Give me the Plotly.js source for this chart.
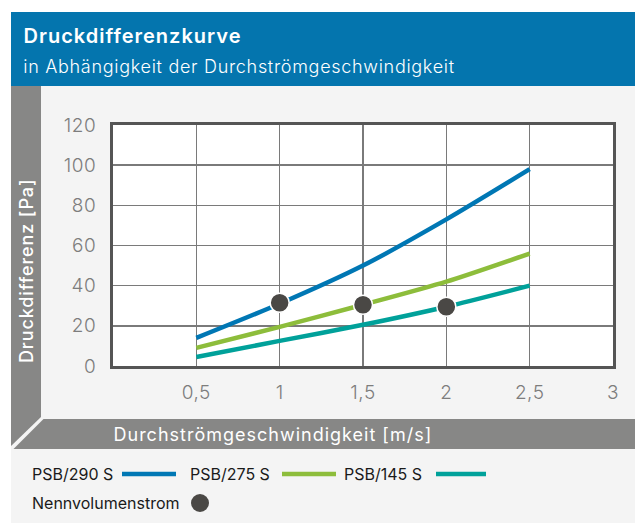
<!DOCTYPE html>
<html><head><meta charset="utf-8">
<script src="https://cdn.plot.ly/plotly-3.0.1.min.js"></script>
<style>
html,body{margin:0;padding:0;background:#fff}
#chart{width:635px;height:523px}
#chart g.annotation[data-index="0"] text{letter-spacing:1px}
#chart g.annotation[data-index="1"] text{letter-spacing:0.7px}
#chart g.annotation[data-index="2"] text{letter-spacing:0.9px}
#chart g.annotation[data-index="3"] text{letter-spacing:1px}
#chart .xtick text, #chart .ytick text{letter-spacing:0.5px}
</style>
</head><body><div id="chart"></div>
<script>
// ---- data ----
const speed = [0.5, 1, 1.5, 2, 2.5];
const psb290 = [14, 31, 50, 73, 98];
const psb275 = [9, 19.5, 30.5, 42, 56];
const psb145 = [4.5, 12.5, 20.5, 29.5, 40];
const seriesNames = ['PSB/290 S', 'PSB/275 S', 'PSB/145 S'];
const nennSpeed = [1, 1.5, 2];
const nennPressure = [31.5, 30.5, 29.5];
const nennName = 'Nennvolumenstrom';
const xTickVals = [0.5, 1, 1.5, 2, 2.5, 3];
const xTickText = ['0,5', '1', '1,5', '2', '2,5', '3'];
const yTickVals = [0, 20, 40, 60, 80, 100, 120];
const titleText = 'Druckdifferenzkurve';
const subtitleText = 'in Abhängigkeit der Durchströmgeschwindigkeit';
const xTitleText = 'Durchströmgeschwindigkeit [m/s]';
const yTitleText = 'Druckdifferenz [Pa]';

// ---- style ----
const colors = ['#0077b4', '#8dbd3b', '#00a19a'];
const dotColor = '#4a4845';
const W = 635, H = 523;
const px = x => x / W, py = y => 1 - y / H;
const FONT = 'Inter, Liberation Sans, Arial, sans-serif';
const legendTextX = [30, 188, 342];
const legendLineX = [[122, 176], [282, 336], [436, 486]];
const seriesData = [psb290, psb275, psb145];

const traces = seriesData.map((ys, i) => ({
  x: speed, y: ys, name: seriesNames[i], type: 'scatter', mode: 'lines',
  line: {color: colors[i], width: 4.5, shape: 'spline', smoothing: 0.7},
  hoverinfo: 'skip'
}));
traces.push({
  x: nennSpeed, y: nennPressure, name: nennName, type: 'scatter', mode: 'markers',
  marker: {color: dotColor, size: 19, line: {color: '#ffffff', width: 1.5}},
  hoverinfo: 'skip'
});

const shapes = [
  {type: 'rect', xref: 'paper', yref: 'paper', x0: 0, x1: 1, y0: py(12), y1: 1, fillcolor: '#ffffff', line: {width: 0}, layer: 'below'},
  {type: 'rect', xref: 'paper', yref: 'paper', x0: 0, x1: px(11), y0: 0, y1: 1, fillcolor: '#ffffff', line: {width: 0}, layer: 'below'},
  {type: 'rect', xref: 'paper', yref: 'paper', x0: px(11), x1: 1, y0: py(86), y1: py(12), fillcolor: '#0475ae', line: {width: 0}, layer: 'below'},
  {type: 'path', xref: 'paper', yref: 'paper', layer: 'below', fillcolor: '#878786', line: {width: 0},
   path: `M${px(11)},${py(86)} L${px(41)},${py(86)} L${px(41)},${py(417)} L${px(11)},${py(446)} Z`},
  {type: 'path', xref: 'paper', yref: 'paper', layer: 'below', fillcolor: '#878786', line: {width: 0},
   path: `M${px(43.5)},${py(419)} L${px(635)},${py(419)} L${px(635)},${py(449)} L${px(13.5)},${py(449)} Z`},
];
const annotations = [
  {text: titleText, xref: 'paper', yref: 'paper', x: px(31), y: py(36), xanchor: 'left', yanchor: 'middle', showarrow: false,
   font: {family: FONT, size: 20, color: '#ffffff', weight: 600}},
  {text: subtitleText, xref: 'paper', yref: 'paper', x: px(37), y: py(66), xanchor: 'left', yanchor: 'middle', showarrow: false,
   font: {family: FONT, size: 18, color: '#ffffff', weight: 300}},
  {text: yTitleText, xref: 'paper', yref: 'paper', x: px(26), y: py(357), xanchor: 'center', yanchor: 'bottom', showarrow: false, textangle: -90,
   font: {family: FONT, size: 18, color: '#ffffff', weight: 500}},
  {text: xTitleText, xref: 'paper', yref: 'paper', x: px(127), y: py(434), xanchor: 'left', yanchor: 'middle', showarrow: false,
   font: {family: FONT, size: 18, color: '#ffffff', weight: 400}},
];
seriesNames.forEach((n, i) => {
  annotations.push({text: n, xref: 'paper', yref: 'paper', x: px(legendTextX[i]), y: py(474), xanchor: 'left', yanchor: 'middle', showarrow: false,
    font: {family: FONT, size: 16, color: '#1a1a1a'}});
  shapes.push({type: 'line', xref: 'paper', yref: 'paper', x0: px(legendLineX[i][0]), x1: px(legendLineX[i][1]), y0: py(474), y1: py(474),
    line: {color: colors[i], width: 4.5}});
});
annotations.push({text: nennName, xref: 'paper', yref: 'paper', x: px(30), y: py(503), xanchor: 'left', yanchor: 'middle', showarrow: false,
  font: {family: FONT, size: 16, color: '#1a1a1a'}});
shapes.push({type: 'circle', xref: 'paper', yref: 'paper', x0: px(191), x1: px(209), y0: py(512), y1: py(494),
  fillcolor: dotColor, line: {color: dotColor, width: 0}});

const tickFont = {family: FONT, size: 19, color: '#7d7d7d', weight: 300};
const layout = {
  width: W, height: H, margin: {l: 0, r: 0, t: 0, b: 0},
  paper_bgcolor: '#f4f4f4', plot_bgcolor: '#ffffff', showlegend: false,
  xaxis: {domain: [px(113), px(613)], range: [0, 3], tickvals: xTickVals, ticktext: xTickText,
    showgrid: true, gridcolor: '#7a7a7a', gridwidth: 1.5, zeroline: false,
    showline: true, mirror: true, linecolor: '#555555', linewidth: 3,
    ticks: '', tickfont: tickFont, ticklabelstandoff: 7, fixedrange: true},
  yaxis: {domain: [py(366), py(125)], range: [0, 120], tickvals: yTickVals,
    showgrid: true, gridcolor: '#7a7a7a', gridwidth: 1.5, zeroline: false,
    showline: true, mirror: true, linecolor: '#555555', linewidth: 3,
    ticks: '', tickfont: tickFont, ticklabelstandoff: 10, fixedrange: true},
  shapes: shapes, annotations: annotations
};
Plotly.newPlot('chart', traces, layout, {staticPlot: true, displayModeBar: false});
</script></body></html>
